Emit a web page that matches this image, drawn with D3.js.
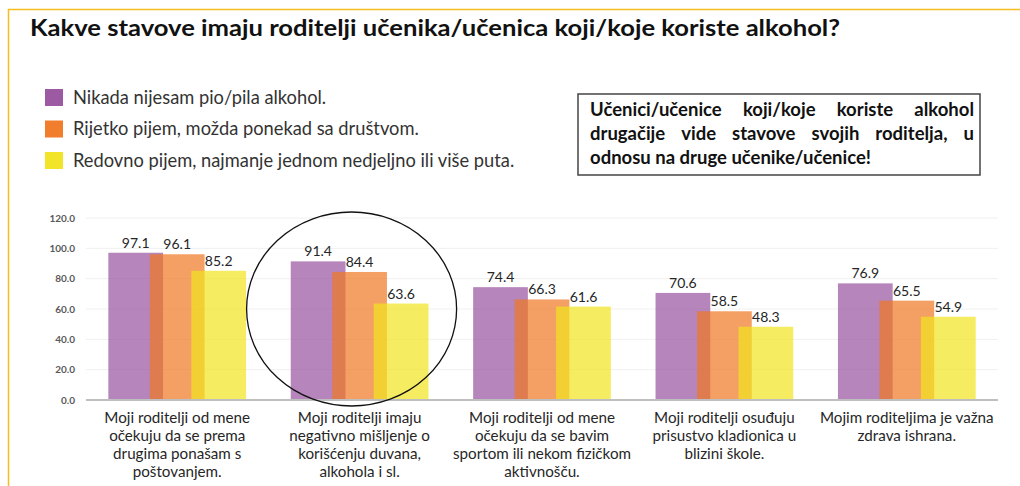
<!DOCTYPE html>
<html>
<head>
<meta charset="utf-8">
<script src="https://cdn.jsdelivr.net/npm/d3@7"></script>
<style>
  body { margin: 0; background: #fff; }
  svg { display: block; }
</style>
</head>
<body>
<div id="viz"></div>
<script>
// categories (x axis), wrapped as in the original
var categories = [
  ["Moji roditelji od mene", "očekuju da se prema", "drugima ponašam s", "poštovanjem."],
  ["Moji roditelji imaju", "negativno mišljenje o", "korišćenju duvana,", "alkohola i sl."],
  ["Moji roditelji od mene", "očekuju da se bavim", "sportom ili nekom fizičkom", "aktivnošču."],
  ["Moji roditelji osuđuju", "prisustvo kladionica u", "blizini škole."],
  ["Mojim roditeljima je važna", "zdrava ishrana."]
];
var seriesNames = [
  "Nikada nijesam pio/pila alkohol.",
  "Rijetko pijem, možda ponekad sa društvom.",
  "Redovno pijem, najmanje jednom nedjeljno ili više puta."
];
var neverValues  = [97.1, 91.4, 74.4, 70.6, 76.9];
var rarelyValues = [96.1, 84.4, 66.3, 58.5, 65.5];
var weeklyValues = [85.2, 63.6, 61.6, 48.3, 54.9];
var yTicks = [0, 20, 40, 60, 80, 100, 120];
var title = "Kakve stavove imaju roditelji učenika/učenica koji/koje koriste alkohol?";
var noteLines = [
  "Učenici/učenice koji/koje koriste alkohol",
  "drugačije vide stavove svojih roditelja, u",
  "odnosu na druge učenike/učenice!"
];

var colors = ["#97519e", "#ef7722", "#f1e41e"];
var series = [neverValues, rarelyValues, weeklyValues];

var width = 1020, height = 486;
var margin = {top: 218, right: 22, bottom: 86, left: 86};

var svg = d3.select('#viz')
  .append('svg')
  .attr('width', width)
  .attr('height', height);

// frame lines (gold)
svg.append("line")
  .attr("x1", 8).attr("x2", width).attr("y1", 9.5).attr("y2", 9.5)
  .attr("stroke", "#f5bd1f").attr("stroke-width", 1.5);
svg.append("line")
  .attr("x1", 8.5).attr("x2", 8.5).attr("y1", 9).attr("y2", height)
  .attr("stroke", "#f5bd1f").attr("stroke-width", 1.5);

// title
svg.append("text")
  .attr("x", 30).attr("y", 36)
  .attr("font-family", "Lato, sans-serif")
  .attr("font-weight", "bold")
  .attr("font-size", 23)
  .attr("fill", "#111")
  .attr("textLength", 810)
  .attr("lengthAdjust", "spacingAndGlyphs")
  .text(title);

// legend
var legend = svg.append("g");
seriesNames.forEach(function(name, i) {
  var y0 = 89 + i * 31.5;
  legend.append("rect")
    .attr("x", 45).attr("y", y0)
    .attr("width", 18).attr("height", 17)
    .attr("fill", colors[i]).attr("fill-opacity", 0.95);
  legend.append("text")
    .attr("x", 73).attr("y", y0 + 14.5)
    .attr("font-family", "Lato, sans-serif")
    .attr("font-size", 18.3)
    .attr("fill", "#333")
    .text(name);
});

// note box
var box = {x: 578, y: 94, w: 402, h: 81};
svg.append("rect")
  .attr("x", box.x).attr("y", box.y)
  .attr("width", box.w).attr("height", box.h)
  .attr("fill", "white").attr("stroke", "#444").attr("stroke-width", 1.5);

var noteG = svg.append("g")
  .attr("font-family", "Lato, sans-serif")
  .attr("font-weight", "bold")
  .attr("font-size", 18.5)
  .attr("fill", "#111");
noteLines.forEach(function(line, i) {
  var y = box.y + 22 + i * 24;
  var left = box.x + 12, right = box.x + box.w - 6;
  var words = line.split(" ");
  if (i == noteLines.length - 1) {
    noteG.append("text").attr("x", left).attr("y", y).text(line);
    return;
  }
  // justify: measure words then spread the gaps
  var nodes = words.map(function(w) {
    return noteG.append("text").attr("y", y).text(w);
  });
  var widths = nodes.map(function(n) { return n.node().getComputedTextLength(); });
  var total = d3.sum(widths);
  var gap = (right - left - total) / (words.length - 1);
  var x = left;
  nodes.forEach(function(n, j) {
    n.attr("x", x);
    x += widths[j] + gap;
  });
});

// scales
var xScale = d3.scaleBand()
  .domain(d3.range(categories.length))
  .range([margin.left, width - margin.right]);

var y = d3.scaleLinear()
  .domain([0, 120])
  .range([height - margin.bottom, margin.top]);

var bw = xScale.bandwidth();
var barW = bw * 0.30;
var step = bw * 0.2275;

// gridlines
svg.append("g")
  .selectAll("line")
  .data(yTicks.slice(1))
  .join("line")
  .attr("x1", margin.left).attr("x2", width - margin.right)
  .attr("y1", d => y(d)).attr("y2", d => y(d))
  .attr("stroke", "#f0f0f0").attr("stroke-width", 1);

// y axis labels
var yAxis = svg.append("g")
  .attr("transform", "translate(" + (margin.left - 8) + ",0)")
  .call(d3.axisLeft(y).tickValues(yTicks).tickFormat(d3.format(".1f")).tickSize(0));
yAxis.select(".domain").remove();
yAxis.selectAll("text")
  .attr("font-family", "Lato, sans-serif")
  .attr("font-weight", "bold")
  .attr("font-size", 10)
  .attr("fill", "#595959");

// bars
series.forEach(function(vals, s) {
  svg.append("g")
    .selectAll("rect")
    .data(vals)
    .join("rect")
    .attr("fill", colors[s])
    .attr("fill-opacity", 0.7)
    .attr("x", (d, i) => xScale(i) + bw / 2 + (s - 1) * step - barW / 2)
    .attr("width", barW)
    .attr("y", d => y(d))
    .attr("height", d => y(0) - y(d));
});

// data labels
series.forEach(function(vals, s) {
  svg.append("g")
    .selectAll("text")
    .data(vals)
    .join("text")
    .attr("text-anchor", "middle")
    .attr("font-family", "Lato, sans-serif")
    .attr("font-size", 14)
    .attr("fill", "#262626")
    .attr("x", (d, i) => xScale(i) + bw / 2 + (s - 1) * step)
    .attr("y", d => y(d) - 5)
    .text(d => d.toFixed(1));
});

// x axis line
svg.append("line")
  .attr("x1", margin.left).attr("x2", width - margin.right)
  .attr("y1", y(0)).attr("y2", y(0))
  .attr("stroke", "#bfbfbf").attr("stroke-width", 2);

// category labels
var catG = svg.append("g")
  .attr("font-family", "Lato, sans-serif")
  .attr("font-size", 15.2)
  .attr("fill", "#262626")
  .attr("text-anchor", "middle");
categories.forEach(function(lines, i) {
  lines.forEach(function(line, j) {
    catG.append("text")
      .attr("x", xScale(i) + bw / 2)
      .attr("y", y(0) + 23 + j * 18)
      .text(line);
  });
});

// highlight circle
svg.append("ellipse")
  .attr("cx", xScale(1) + bw / 2 - 8)
  .attr("cy", y(60))
  .attr("rx", 105).attr("ry", 97)
  .attr("fill", "none")
  .attr("stroke", "#111").attr("stroke-width", 1.3);
</script>
</body>
</html>
